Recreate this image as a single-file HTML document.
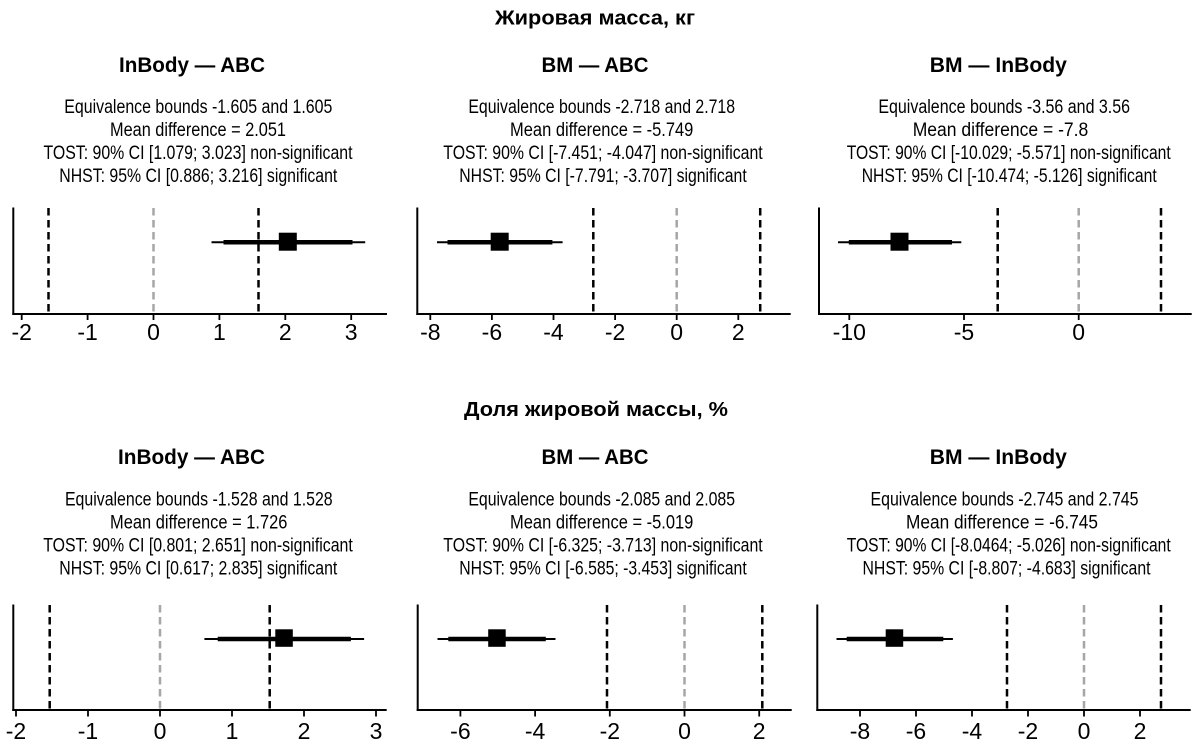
<!DOCTYPE html>
<html>
<head>
<meta charset="utf-8">
<style>
  html,body{margin:0;padding:0;background:#fff;}
  svg{display:block;}
  text{font-family:"Liberation Sans","DejaVu Sans",sans-serif;fill:#000;}
  .t{font-weight:bold;font-size:21px;}
  .h{font-weight:bold;font-size:20px;}
  .b{font-size:19px;}
  .k{font-size:23px;}
</style>
</head>
<body>
<svg width="1200" height="747" viewBox="0 0 1200 747" xmlns="http://www.w3.org/2000/svg">
  <rect width="1200" height="747" fill="#fff"/>

  <!-- ============ UPPER ROW ============ -->
  <text class="h" x="595" y="24.5" text-anchor="middle" textLength="200" lengthAdjust="spacingAndGlyphs">Жировая масса, кг</text>

  <text class="t" x="192" y="72" text-anchor="middle" textLength="146" lengthAdjust="spacingAndGlyphs">InBody — ABC</text>
  <text class="t" x="595" y="72" text-anchor="middle" textLength="107" lengthAdjust="spacingAndGlyphs">BM — ABC</text>
  <text class="t" x="998.3" y="72" text-anchor="middle" textLength="137" lengthAdjust="spacingAndGlyphs">BM — InBody</text>

  <text class="b" x="198.3" y="113" text-anchor="middle" textLength="268" lengthAdjust="spacingAndGlyphs">Equivalence bounds -1.605 and 1.605</text>
  <text class="b" x="198" y="136" text-anchor="middle" textLength="176" lengthAdjust="spacingAndGlyphs">Mean difference = 2.051</text>
  <text class="b" x="198" y="159" text-anchor="middle" textLength="309" lengthAdjust="spacingAndGlyphs">TOST: 90% CI [1.079; 3.023] non-significant</text>
  <text class="b" x="198.3" y="182" text-anchor="middle" textLength="278" lengthAdjust="spacingAndGlyphs">NHST: 95% CI [0.886; 3.216] significant</text>

  <text class="b" x="601.7" y="113" text-anchor="middle" textLength="266.7" lengthAdjust="spacingAndGlyphs">Equivalence bounds -2.718 and 2.718</text>
  <text class="b" x="601.7" y="136" text-anchor="middle" textLength="183.3" lengthAdjust="spacingAndGlyphs">Mean difference = -5.749</text>
  <text class="b" x="603" y="159" text-anchor="middle" textLength="319.4" lengthAdjust="spacingAndGlyphs">TOST: 90% CI [-7.451; -4.047] non-significant</text>
  <text class="b" x="603" y="182" text-anchor="middle" textLength="287.4" lengthAdjust="spacingAndGlyphs">NHST: 95% CI [-7.791; -3.707] significant</text>

  <text class="b" x="1004.2" y="113" text-anchor="middle" textLength="251.7" lengthAdjust="spacingAndGlyphs">Equivalence bounds -3.56 and 3.56</text>
  <text class="b" x="1000.5" y="136" text-anchor="middle" textLength="175.6" lengthAdjust="spacingAndGlyphs">Mean difference = -7.8</text>
  <text class="b" x="1008.7" y="159" text-anchor="middle" textLength="324" lengthAdjust="spacingAndGlyphs">TOST: 90% CI [-10.029; -5.571] non-significant</text>
  <text class="b" x="1009.2" y="182" text-anchor="middle" textLength="295" lengthAdjust="spacingAndGlyphs">NHST: 95% CI [-10.474; -5.126] significant</text>

  <!-- upper panel 1 plot -->
  <g>
    <line x1="48.5" y1="208" x2="48.5" y2="314" stroke="#000" stroke-width="2.5" stroke-dasharray="7.5 4.5"/>
    <line x1="258.5" y1="208" x2="258.5" y2="314" stroke="#000" stroke-width="2.5" stroke-dasharray="7.5 4.5"/>
    <line x1="153.5" y1="208" x2="153.5" y2="314" stroke="#a6a6a6" stroke-width="2.5" stroke-dasharray="7.5 4.5"/>
    <line x1="211.5" y1="242.3" x2="365.2" y2="242.3" stroke="#000" stroke-width="2"/>
    <line x1="223.5" y1="242.3" x2="352.5" y2="242.3" stroke="#000" stroke-width="4.5"/>
    <rect x="278.8" y="232.7" width="18" height="18" fill="#000"/>
    <line x1="13.3" y1="207.5" x2="13.3" y2="315" stroke="#000" stroke-width="2"/>
    <line x1="12.3" y1="314" x2="387" y2="314" stroke="#000" stroke-width="2"/>
    <g stroke="#000" stroke-width="1.8">
      <line x1="21.7" y1="314" x2="21.7" y2="320"/>
      <line x1="87.6" y1="314" x2="87.6" y2="320"/>
      <line x1="153.5" y1="314" x2="153.5" y2="320"/>
      <line x1="219.4" y1="314" x2="219.4" y2="320"/>
      <line x1="285.3" y1="314" x2="285.3" y2="320"/>
      <line x1="351.2" y1="314" x2="351.2" y2="320"/>
    </g>
    <g text-anchor="middle">
      <text class="k" x="21.7" y="340">-2</text>
      <text class="k" x="87.6" y="340">-1</text>
      <text class="k" x="153.5" y="340">0</text>
      <text class="k" x="219.4" y="340">1</text>
      <text class="k" x="285.3" y="340">2</text>
      <text class="k" x="351.2" y="340">3</text>
    </g>
  </g>

  <!-- upper panel 2 plot -->
  <g>
    <line x1="593.3" y1="208" x2="593.3" y2="314" stroke="#000" stroke-width="2.5" stroke-dasharray="7.5 4.5"/>
    <line x1="760.2" y1="208" x2="760.2" y2="314" stroke="#000" stroke-width="2.5" stroke-dasharray="7.5 4.5"/>
    <line x1="676.7" y1="208" x2="676.7" y2="314" stroke="#a6a6a6" stroke-width="2.5" stroke-dasharray="7.5 4.5"/>
    <line x1="437" y1="242.3" x2="562.6" y2="242.3" stroke="#000" stroke-width="2"/>
    <line x1="447.5" y1="242.3" x2="552.4" y2="242.3" stroke="#000" stroke-width="4.5"/>
    <rect x="490.7" y="232.7" width="18" height="18" fill="#000"/>
    <line x1="417.3" y1="207.5" x2="417.3" y2="315" stroke="#000" stroke-width="2"/>
    <line x1="416.3" y1="314" x2="790.7" y2="314" stroke="#000" stroke-width="2"/>
    <g stroke="#000" stroke-width="1.8">
      <line x1="430.3" y1="314" x2="430.3" y2="320"/>
      <line x1="491.9" y1="314" x2="491.9" y2="320"/>
      <line x1="553.5" y1="314" x2="553.5" y2="320"/>
      <line x1="615.1" y1="314" x2="615.1" y2="320"/>
      <line x1="676.7" y1="314" x2="676.7" y2="320"/>
      <line x1="738.3" y1="314" x2="738.3" y2="320"/>
    </g>
    <g text-anchor="middle">
      <text class="k" x="430.3" y="340">-8</text>
      <text class="k" x="491.9" y="340">-6</text>
      <text class="k" x="553.5" y="340">-4</text>
      <text class="k" x="615.1" y="340">-2</text>
      <text class="k" x="676.7" y="340">0</text>
      <text class="k" x="738.3" y="340">2</text>
    </g>
  </g>

  <!-- upper panel 3 plot -->
  <g>
    <line x1="997.7" y1="208" x2="997.7" y2="314" stroke="#000" stroke-width="2.5" stroke-dasharray="7.5 4.5"/>
    <line x1="1161" y1="208" x2="1161" y2="314" stroke="#000" stroke-width="2.5" stroke-dasharray="7.5 4.5"/>
    <line x1="1078.7" y1="208" x2="1078.7" y2="314" stroke="#a6a6a6" stroke-width="2.5" stroke-dasharray="7.5 4.5"/>
    <line x1="838" y1="242.3" x2="961.3" y2="242.3" stroke="#000" stroke-width="2"/>
    <line x1="848.8" y1="242.3" x2="952" y2="242.3" stroke="#000" stroke-width="4.5"/>
    <rect x="890.5" y="232.7" width="18" height="18" fill="#000"/>
    <line x1="819" y1="207.5" x2="819" y2="315" stroke="#000" stroke-width="2"/>
    <line x1="818" y1="314" x2="1191.7" y2="314" stroke="#000" stroke-width="2"/>
    <g stroke="#000" stroke-width="1.8">
      <line x1="849.3" y1="314" x2="849.3" y2="320"/>
      <line x1="964" y1="314" x2="964" y2="320"/>
      <line x1="1078.7" y1="314" x2="1078.7" y2="320"/>
    </g>
    <g text-anchor="middle">
      <text class="k" x="849.3" y="340">-10</text>
      <text class="k" x="964" y="340">-5</text>
      <text class="k" x="1078.7" y="340">0</text>
    </g>
  </g>

  <!-- ============ LOWER ROW ============ -->
  <text class="h" x="596" y="416" text-anchor="middle" textLength="264" lengthAdjust="spacingAndGlyphs">Доля жировой массы, %</text>

  <text class="t" x="191.5" y="464" text-anchor="middle" textLength="147" lengthAdjust="spacingAndGlyphs">InBody — ABC</text>
  <text class="t" x="595" y="464" text-anchor="middle" textLength="107" lengthAdjust="spacingAndGlyphs">BM — ABC</text>
  <text class="t" x="998.3" y="464" text-anchor="middle" textLength="137" lengthAdjust="spacingAndGlyphs">BM — InBody</text>

  <text class="b" x="198.8" y="505.5" text-anchor="middle" textLength="267.7" lengthAdjust="spacingAndGlyphs">Equivalence bounds -1.528 and 1.528</text>
  <text class="b" x="198.7" y="528.5" text-anchor="middle" textLength="177.3" lengthAdjust="spacingAndGlyphs">Mean difference = 1.726</text>
  <text class="b" x="198" y="551.5" text-anchor="middle" textLength="309.6" lengthAdjust="spacingAndGlyphs">TOST: 90% CI [0.801; 2.651] non-significant</text>
  <text class="b" x="198.3" y="574.5" text-anchor="middle" textLength="278" lengthAdjust="spacingAndGlyphs">NHST: 95% CI [0.617; 2.835] significant</text>

  <text class="b" x="601.7" y="505.5" text-anchor="middle" textLength="266.7" lengthAdjust="spacingAndGlyphs">Equivalence bounds -2.085 and 2.085</text>
  <text class="b" x="601.7" y="528.5" text-anchor="middle" textLength="183.3" lengthAdjust="spacingAndGlyphs">Mean difference = -5.019</text>
  <text class="b" x="603" y="551.5" text-anchor="middle" textLength="319.4" lengthAdjust="spacingAndGlyphs">TOST: 90% CI [-6.325; -3.713] non-significant</text>
  <text class="b" x="603" y="574.5" text-anchor="middle" textLength="287.4" lengthAdjust="spacingAndGlyphs">NHST: 95% CI [-6.585; -3.453] significant</text>

  <text class="b" x="1004.5" y="505.5" text-anchor="middle" textLength="268" lengthAdjust="spacingAndGlyphs">Equivalence bounds -2.745 and 2.745</text>
  <text class="b" x="1002" y="528.5" text-anchor="middle" textLength="192" lengthAdjust="spacingAndGlyphs">Mean difference = -6.745</text>
  <text class="b" x="1008.7" y="551.5" text-anchor="middle" textLength="324" lengthAdjust="spacingAndGlyphs">TOST: 90% CI [-8.0464; -5.026] non-significant</text>
  <text class="b" x="1006.5" y="574.5" text-anchor="middle" textLength="288" lengthAdjust="spacingAndGlyphs">NHST: 95% CI [-8.807; -4.683] significant</text>

  <!-- lower panel 1 plot -->
  <g>
    <line x1="49.7" y1="605" x2="49.7" y2="710" stroke="#000" stroke-width="2.5" stroke-dasharray="7.5 4.5"/>
    <line x1="269.7" y1="605" x2="269.7" y2="710" stroke="#000" stroke-width="2.5" stroke-dasharray="7.5 4.5"/>
    <line x1="160" y1="605" x2="160" y2="710" stroke="#a6a6a6" stroke-width="2.5" stroke-dasharray="7.5 4.5"/>
    <line x1="204.4" y1="639" x2="364.1" y2="639" stroke="#000" stroke-width="2"/>
    <line x1="217.7" y1="639" x2="350.9" y2="639" stroke="#000" stroke-width="4.5"/>
    <rect x="275.3" y="629.3" width="17.5" height="17.5" fill="#000"/>
    <line x1="13.3" y1="604.5" x2="13.3" y2="711" stroke="#000" stroke-width="2"/>
    <line x1="12.3" y1="710" x2="386.7" y2="710" stroke="#000" stroke-width="2"/>
    <g stroke="#000" stroke-width="1.8">
      <line x1="16" y1="710" x2="16" y2="716.5"/>
      <line x1="88" y1="710" x2="88" y2="716.5"/>
      <line x1="160" y1="710" x2="160" y2="716.5"/>
      <line x1="232" y1="710" x2="232" y2="716.5"/>
      <line x1="304" y1="710" x2="304" y2="716.5"/>
      <line x1="376" y1="710" x2="376" y2="716.5"/>
    </g>
    <g text-anchor="middle">
      <text class="k" x="16" y="739">-2</text>
      <text class="k" x="88" y="739">-1</text>
      <text class="k" x="160" y="739">0</text>
      <text class="k" x="232" y="739">1</text>
      <text class="k" x="304" y="739">2</text>
      <text class="k" x="376" y="739">3</text>
    </g>
  </g>

  <!-- lower panel 2 plot -->
  <g>
    <line x1="607" y1="605" x2="607" y2="710" stroke="#000" stroke-width="2.5" stroke-dasharray="7.5 4.5"/>
    <line x1="762.3" y1="605" x2="762.3" y2="710" stroke="#000" stroke-width="2.5" stroke-dasharray="7.5 4.5"/>
    <line x1="684.5" y1="605" x2="684.5" y2="710" stroke="#a6a6a6" stroke-width="2.5" stroke-dasharray="7.5 4.5"/>
    <line x1="437.5" y1="639" x2="555.5" y2="639" stroke="#000" stroke-width="2"/>
    <line x1="448.3" y1="639" x2="545.8" y2="639" stroke="#000" stroke-width="4.5"/>
    <rect x="488.2" y="629.3" width="17.5" height="17.5" fill="#000"/>
    <line x1="417.7" y1="604.5" x2="417.7" y2="711" stroke="#000" stroke-width="2"/>
    <line x1="416.7" y1="710" x2="791.7" y2="710" stroke="#000" stroke-width="2"/>
    <g stroke="#000" stroke-width="1.8">
      <line x1="460.4" y1="710" x2="460.4" y2="716.5"/>
      <line x1="535.1" y1="710" x2="535.1" y2="716.5"/>
      <line x1="609.8" y1="710" x2="609.8" y2="716.5"/>
      <line x1="684.5" y1="710" x2="684.5" y2="716.5"/>
      <line x1="759.2" y1="710" x2="759.2" y2="716.5"/>
    </g>
    <g text-anchor="middle">
      <text class="k" x="460.4" y="739">-6</text>
      <text class="k" x="535.1" y="739">-4</text>
      <text class="k" x="609.8" y="739">-2</text>
      <text class="k" x="684.5" y="739">0</text>
      <text class="k" x="759.2" y="739">2</text>
    </g>
  </g>

  <!-- lower panel 3 plot -->
  <g>
    <line x1="1007" y1="605" x2="1007" y2="710" stroke="#000" stroke-width="2.5" stroke-dasharray="7.5 4.5"/>
    <line x1="1161" y1="605" x2="1161" y2="710" stroke="#000" stroke-width="2.5" stroke-dasharray="7.5 4.5"/>
    <line x1="1084" y1="605" x2="1084" y2="710" stroke="#a6a6a6" stroke-width="2.5" stroke-dasharray="7.5 4.5"/>
    <line x1="836.5" y1="639" x2="952.9" y2="639" stroke="#000" stroke-width="2"/>
    <line x1="846.7" y1="639" x2="943.3" y2="639" stroke="#000" stroke-width="4.5"/>
    <rect x="885.7" y="629.3" width="17.5" height="17.5" fill="#000"/>
    <line x1="817.3" y1="604.5" x2="817.3" y2="711" stroke="#000" stroke-width="2"/>
    <line x1="816.3" y1="710" x2="1190.7" y2="710" stroke="#000" stroke-width="2"/>
    <g stroke="#000" stroke-width="1.8">
      <line x1="860" y1="710" x2="860" y2="716.5"/>
      <line x1="916" y1="710" x2="916" y2="716.5"/>
      <line x1="972" y1="710" x2="972" y2="716.5"/>
      <line x1="1028" y1="710" x2="1028" y2="716.5"/>
      <line x1="1084" y1="710" x2="1084" y2="716.5"/>
      <line x1="1140" y1="710" x2="1140" y2="716.5"/>
    </g>
    <g text-anchor="middle">
      <text class="k" x="860" y="739">-8</text>
      <text class="k" x="916" y="739">-6</text>
      <text class="k" x="972" y="739">-4</text>
      <text class="k" x="1028" y="739">-2</text>
      <text class="k" x="1084" y="739">0</text>
      <text class="k" x="1140" y="739">2</text>
    </g>
  </g>
</svg>
</body>
</html>
